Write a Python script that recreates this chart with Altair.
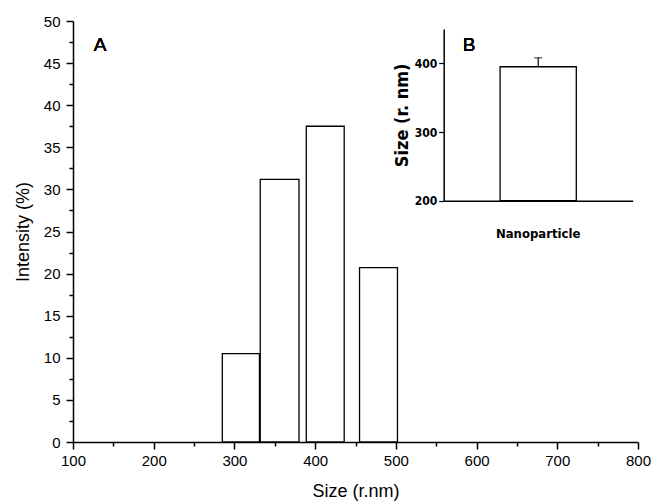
import altair as alt
import pandas as pd

# ---- data ----
bin_start = [285, 332, 389, 455]
bin_end = [331, 380, 436, 502]
intensity = [10.5, 31.2, 37.5, 20.7]

inset_cat = ["Nanoparticle"]
inset_size = [395]
inset_err = [13]

x_major = [100, 200, 300, 400, 500, 600, 700, 800]
x_minor = [150, 250, 350, 450, 550, 650, 750]
y_major = [0, 5, 10, 15, 20, 25, 30, 35, 40, 45, 50]
y_minor = [2.5, 7.5, 12.5, 17.5, 22.5, 27.5, 32.5, 37.5, 42.5, 47.5]
inset_ticks = [200, 300, 400]

W, H = 565, 421
MAIN_FONT = "Liberation Sans"
INSET_FONT = "Liberation Sans Narrow, DejaVu Sans Condensed"

df = pd.DataFrame({"start": bin_start, "end": bin_end, "intensity": intensity})
inset_df = pd.DataFrame({
    "cat": inset_cat,
    "size": inset_size,
    "hi": [s + e for s, e in zip(inset_size, inset_err)],
})

xs = alt.Scale(domain=[100, 800], nice=False, zero=False, padding=0)
ys = alt.Scale(domain=[0, 50], nice=False, padding=0)

common_axis = dict(grid=False, domainColor="black", tickColor="black",
                   labelColor="black", titleColor="black", labelFlush=False,
                   labelOverlap=False)

bars = alt.Chart(df).mark_bar(fill="white", stroke="black", strokeWidth=1.3,
                              orient="vertical").encode(
    x=alt.X("start:Q", scale=xs, axis=alt.Axis(
        orient="bottom", values=x_major, format="d", tickSize=7, tickWidth=1.5,
        domain=True, domainWidth=1.5, labelPadding=4, labelFont=MAIN_FONT,
        labelFontSize=15, title="Size (r.nm)", titleFont=MAIN_FONT,
        titleFontSize=18, titleFontWeight="normal", titlePadding=14,
        **common_axis)),
    x2="end:Q",
    y=alt.Y("intensity:Q", scale=ys, axis=alt.Axis(
        orient="left", values=y_major, format="d", tickSize=7, tickWidth=1.5,
        domain=True, domainWidth=1.5, labelPadding=6, labelFont=MAIN_FONT,
        labelFontSize=15, title="Intensity (%)", titleFont=MAIN_FONT,
        titleFontSize=18, titleFontWeight="normal", titlePadding=11,
        **common_axis)),
    y2=alt.datum(0),
)

minor = alt.Chart(df).mark_point(opacity=0).encode(
    x=alt.X("start:Q", scale=xs, axis=alt.Axis(
        orient="bottom", values=x_minor, labels=False, domain=False, tickSize=4,
        tickWidth=1.5, title=None, **common_axis)),
    y=alt.Y("intensity:Q", scale=ys, axis=alt.Axis(
        orient="left", values=y_minor, labels=False, domain=False, tickSize=4,
        tickWidth=1.5, title=None, **common_axis)),
)

label_a = alt.Chart(df).mark_text(text="A", font=MAIN_FONT, fontSize=19,
                                  fontWeight="normal", color="black").encode(
    x=alt.value(27), y=alt.value(24))
label_b = alt.Chart(df).mark_text(text="B", font=MAIN_FONT, fontSize=19,
                                  fontWeight="normal", color="black").encode(
    x=alt.value(396), y=alt.value(24))

# ---- inset B ----
ixs = alt.Scale(range=[370.7, 559.7], paddingInner=0, paddingOuter=0.74)
iys = alt.Scale(domain=[200, 450], range=[179.7, 8], nice=False, zero=False)

ibar = alt.Chart(inset_df).mark_bar(fill="white", stroke="black",
                                    strokeWidth=1.3).encode(
    x=alt.X("cat:N", scale=ixs, axis=alt.Axis(
        orient="bottom", offset=-241.3, ticks=False, domainWidth=1.5,
        labelPadding=27, labelAngle=0, labelFont=INSET_FONT, labelFontSize=13,
        labelFontWeight="bold", title=None, **common_axis)),
    y=alt.Y("size:Q", scale=iys, axis=alt.Axis(
        orient="left", offset=-370.7, values=inset_ticks, tickSize=5,
        tickWidth=1.2, domainWidth=1.5, labelPadding=2, labelFont=INSET_FONT,
        labelFontSize=12, labelFontWeight="bold", title="Size (r. nm)",
        titleFont=INSET_FONT, titleFontSize=18, titleFontWeight="bold",
        titlePadding=3, **common_axis)),
    y2=alt.datum(200),
)

irule = alt.Chart(inset_df).mark_rule(color="black", strokeWidth=1.2).encode(
    x=alt.X("cat:N", scale=ixs, axis=None),
    y=alt.Y("size:Q", scale=iys, axis=None),
    y2="hi:Q",
)

icap = alt.Chart(inset_df).mark_tick(color="black", size=8, thickness=1.2).encode(
    x=alt.X("cat:N", scale=ixs, axis=None),
    y=alt.Y("hi:Q", scale=iys, axis=None),
)

chart = alt.layer(bars, minor, label_a, label_b, ibar, irule, icap).resolve_scale(
    x="independent", y="independent"
).properties(
    width=W, height=H,
    autosize=alt.AutoSizeParams(type="none"),
    padding={"left": 73, "top": 21, "right": 16, "bottom": 61},
    background="white",
).configure_view(stroke=None)

chart.save("out.html", embed_options={"renderer": "svg", "actions": False})
